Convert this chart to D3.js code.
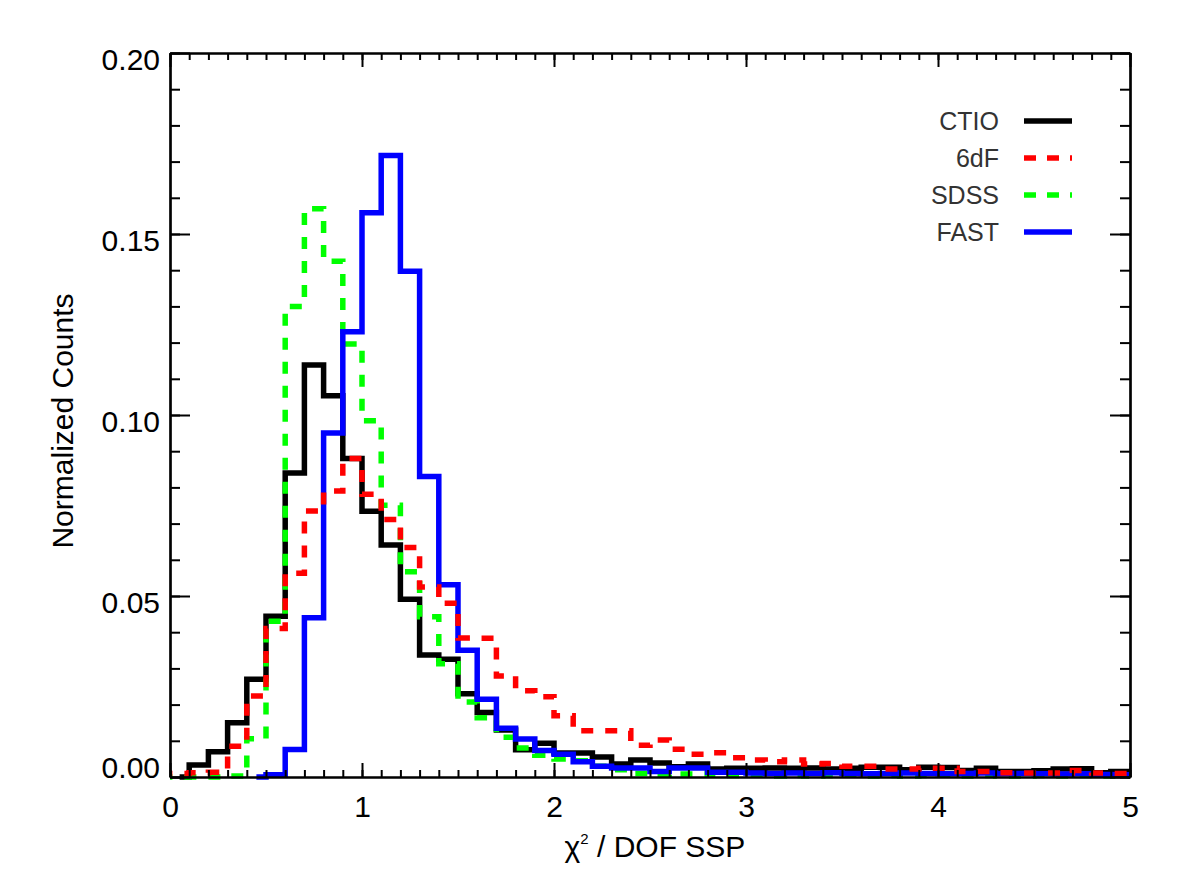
<!DOCTYPE html>
<html>
<head>
<meta charset="utf-8">
<script src="https://cdn.jsdelivr.net/npm/d3@7"></script>
<style>
  body { margin: 0; background: #fff; }
  svg text { font-family: "Liberation Sans", Arial, Helvetica, sans-serif; }
</style>
</head>
<body>
<div id="chart"></div>
<script>
// histogram bins: 0.1 wide, 0 .. 5
const binWidth = 0.1;
const seriesNames = ['CTIO', '6dF', 'SDSS', 'FAST'];

const ctio = [0.000, 0.0033, 0.007, 0.015, 0.027, 0.0444, 0.084, 0.1138, 0.1053, 0.088,
  0.0734, 0.0641, 0.0491, 0.0337, 0.0325, 0.023, 0.0178, 0.013, 0.0075, 0.0093,
  0.0066, 0.0066, 0.0055, 0.0036, 0.0047, 0.0039, 0.0028, 0.0036, 0.0022, 0.0024,
  0.0024, 0.0025, 0.0024, 0.0025, 0.0022, 0.0024, 0.0027, 0.0027, 0.002, 0.0027,
  0.0026, 0.0018, 0.0024, 0.0015, 0.0015, 0.0017, 0.0022, 0.0023, 0.0012, 0.0015];

const sixdf = [0.001, 0.0012, 0.0013, 0.0085, 0.0224, 0.041, 0.0563, 0.0735, 0.079, 0.088,
  0.0781, 0.0711, 0.0634, 0.0525, 0.048, 0.0384, 0.0383, 0.0279, 0.0238, 0.0222,
  0.0169, 0.0128, 0.0128, 0.0128, 0.0088, 0.0102, 0.0077, 0.0063, 0.0067, 0.0053,
  0.0047, 0.0042, 0.0047, 0.0036, 0.0037, 0.003, 0.003, 0.0022, 0.0022, 0.0024,
  0.0024, 0.0015, 0.0015, 0.0012, 0.0011, 0.0011, 0.0011, 0.0018, 0.0011, 0.001];

const sdss = [0.0, 0.0, 0.0, 0.0003, 0.0106, 0.043, 0.130, 0.157, 0.1425, 0.1196,
  0.0984, 0.0751, 0.0567, 0.0443, 0.0313, 0.0207, 0.0164, 0.011, 0.008, 0.006,
  0.005, 0.0045, 0.003, 0.002, 0.001, 0.0005, 0.0008, 0.0008, 0.0005, 0.0004,
  0.0005, 0.0003, 0.0004, 0.0003, 0.0004, 0.0005, 0.0003, 0.0004, 0.0003, 0.0004,
  0.0005, 0.0003, 0.0004, 0.0003, 0.0003, 0.0004, 0.0003, 0.0004, 0.0003, 0.0003];

const fast = [null, null, null, null, 0.0, 0.0006, 0.0076, 0.044, 0.095, 0.123,
  0.1559, 0.1717, 0.1397, 0.083, 0.0531, 0.035, 0.0215, 0.0135, 0.0105, 0.0073,
  0.0063, 0.0042, 0.003, 0.0025, 0.0025, 0.0015, 0.0025, 0.0025, 0.0013, 0.0013,
  0.0011, 0.001, 0.0011, 0.001, 0.0012, 0.001, 0.0009, 0.001, 0.0011, 0.001,
  0.0009, 0.001, 0.0011, 0.0009, 0.001, 0.0009, 0.0008, 0.0009, 0.0007, 0.0006];

const xTicks = [0, 1, 2, 3, 4, 5];
const yTicks = [0, 0.05, 0.10, 0.15, 0.20];

const width = 1180, height = 886;
const margin = {top: 53, right: 50, bottom: 109, left: 170};

const svg = d3.select('#chart').append('svg')
  .attr('width', width)
  .attr('height', height);

const x = d3.scaleLinear().domain([0, 5]).range([margin.left, width - margin.right]);
const y = d3.scaleLinear().domain([0, 0.2]).range([height - margin.bottom, margin.top]);

svg.append('clipPath').attr('id', 'plot-clip')
  .append('rect')
  .attr('x', x(0)).attr('y', y(0.2))
  .attr('width', x(5) - x(0)).attr('height', y(0) - y(0.2) + 4);

// series drawn in this order: black, green, blue, red
const series = [
  {name: 'CTIO', values: ctio, color: '#000000', dash: null, fromZero: false},
  {name: 'SDSS', values: sdss, color: '#00ff00', dash: '12,12', fromZero: true},
  {name: 'FAST', values: fast, color: '#0000ff', dash: null, fromZero: false},
  {name: '6dF', values: sixdf, color: '#ff0000', dash: '12,12', fromZero: true}
];

const line = d3.line()
  .x(d => x(d[0]))
  .y(d => y(d[1]))
  .curve(d3.curveStep);

const lines = svg.append('g').attr('clip-path', 'url(#plot-clip)');

series.forEach(s => {
  let pts = [];
  s.values.forEach((v, i) => {
    if (v !== null) pts.push([(i + 0.5) * binWidth, v]);
  });
  if (s.fromZero) pts.unshift([-0.5 * binWidth, pts[0][1]]);
  pts.push([5 + 0.5 * binWidth, pts[pts.length - 1][1]]);

  lines.append('path')
    .attr('d', line(pts))
    .attr('fill', 'none')
    .attr('stroke', s.color)
    .attr('stroke-width', 5.5)
    .attr('stroke-dasharray', s.dash);
});

// axes
const xMinor = d3.range(0, 5.0001, 0.1);
const yMinor = d3.range(0, 0.2001, 0.01);

function styleAxis(g) {
  g.selectAll('path, line').attr('stroke', '#000').attr('stroke-width', 2);
  g.select('.domain').attr('stroke-width', 2.2);
}

svg.append('g')
  .attr('transform', `translate(0,${y(0)})`)
  .call(d3.axisBottom(x).tickValues(xMinor).tickSizeInner(-7).tickSizeOuter(0).tickFormat(''))
  .call(styleAxis);
svg.append('g')
  .attr('transform', `translate(0,${y(0)})`)
  .call(d3.axisBottom(x).tickValues(xTicks).tickSizeInner(-14).tickSizeOuter(0).tickPadding(19).tickFormat(d3.format('d')))
  .call(styleAxis)
  .call(g => g.selectAll('text').attr('font-size', 30).attr('fill', '#000'));

svg.append('g')
  .attr('transform', `translate(0,${y(0.2)})`)
  .call(d3.axisTop(x).tickValues(xMinor).tickSizeInner(-7).tickSizeOuter(0).tickFormat(''))
  .call(styleAxis);
svg.append('g')
  .attr('transform', `translate(0,${y(0.2)})`)
  .call(d3.axisTop(x).tickValues(xTicks).tickSizeInner(-14).tickSizeOuter(0).tickFormat(''))
  .call(styleAxis);

svg.append('g')
  .attr('transform', `translate(${x(0)},0)`)
  .call(d3.axisLeft(y).tickValues(yMinor).tickSizeInner(-10).tickSizeOuter(0).tickFormat(''))
  .call(styleAxis);
svg.append('g')
  .attr('transform', `translate(${x(0)},0)`)
  .call(d3.axisLeft(y).tickValues(yTicks).tickSizeInner(-20).tickSizeOuter(0).tickPadding(10).tickFormat(d3.format('.2f')))
  .call(styleAxis)
  .call(g => g.selectAll('text')
    .attr('font-size', 30).attr('fill', '#000')
    .attr('dy', d => d === 0 ? '0.0em' : '0.55em'));

svg.append('g')
  .attr('transform', `translate(${x(5)},0)`)
  .call(d3.axisRight(y).tickValues(yMinor).tickSizeInner(-10).tickSizeOuter(0).tickFormat(''))
  .call(styleAxis);
svg.append('g')
  .attr('transform', `translate(${x(5)},0)`)
  .call(d3.axisRight(y).tickValues(yTicks).tickSizeInner(-20).tickSizeOuter(0).tickFormat(''))
  .call(styleAxis);

// axis titles
const xTitle = svg.append('text')
  .attr('x', 655)
  .attr('y', 857)
  .attr('text-anchor', 'middle')
  .attr('font-size', 30)
  .attr('fill', '#000');
xTitle.append('tspan').text('χ');
xTitle.append('tspan').attr('font-size', 15).attr('dy', -13).text('2');
xTitle.append('tspan').attr('dy', 13).text(' / DOF SSP');

svg.append('text')
  .attr('transform', `translate(73,${(y(0) + y(0.2)) / 2 + 6}) rotate(-90)`)
  .attr('text-anchor', 'middle')
  .attr('font-size', 30)
  .attr('fill', '#000')
  .text('Normalized Counts');

// legend
const legendItems = [
  {name: 'CTIO', color: '#000000', dash: null},
  {name: '6dF', color: '#ff0000', dash: '12,11'},
  {name: 'SDSS', color: '#00ff00', dash: '12,11'},
  {name: 'FAST', color: '#0000ff', dash: null}
];
const legend = svg.append('g');
legendItems.forEach((d, i) => {
  const ly = 121 + i * 37;
  legend.append('text')
    .attr('x', 999)
    .attr('y', ly)
    .attr('dy', '0.35em')
    .attr('text-anchor', 'end')
    .attr('font-size', 25)
    .attr('fill', '#333')
    .text(d.name);
  legend.append('line')
    .attr('x1', 1024).attr('x2', 1072)
    .attr('y1', ly).attr('y2', ly)
    .attr('stroke', d.color)
    .attr('stroke-width', 5.5)
    .attr('stroke-dasharray', d.dash);
});
</script>
</body>
</html>
